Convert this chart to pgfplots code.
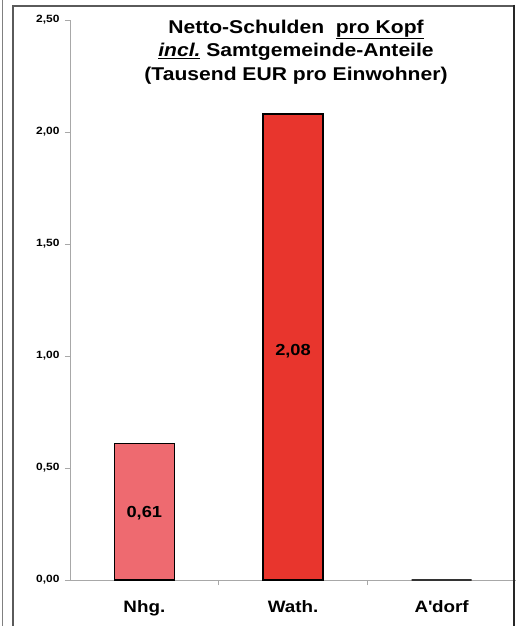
\documentclass[border=0pt]{standalone}
\usepackage{pgfplots}
\pgfplotsset{compat=1.18}
\usepackage{fontspec}
\setmainfont[FakeStretch=1.14]{Liberation Sans}
\definecolor{barA}{HTML}{EE6A70}
\definecolor{barB}{HTML}{E8352D}
\definecolor{axgray}{HTML}{A8A8A8}
\definecolor{framegray}{HTML}{5A5A5A}
\begin{document}
\begin{tikzpicture}[x=1pt,y=1pt]
\path[use as bounding box, fill=white] (0,0) rectangle (517,626);
\begin{axis}[
  at={(70pt,46pt)}, anchor=south west,
  scale only axis, width=446pt, height=560pt,
  xmin=-0.5, xmax=2.5, ymin=0, ymax=2.5,
  axis lines=left, axis line style={draw=axgray, line width=0.8pt, -},
  tick align=outside, major tick length=5pt,
  tick style={draw=axgray, line width=0.8pt},
  xtick={0.5,1.5}, xticklabels={},
  extra x ticks={0,1,2}, extra x tick labels={Nhg.,Wath.,A\textquotesingle dorf},
  extra x tick style={major tick length=0pt,
     tick label style={font=\bfseries\fontsize{16.5}{18}\selectfont, yshift=-17pt}},
  ytick={0,0.5,1,1.5,2,2.5},
  yticklabel style={font=\bfseries\fontsize{10.5}{12}\selectfont, xshift=-2pt,
     /pgf/number format/.cd, fixed, fixed zerofill, precision=2, use comma, assume math mode=true},
  clip=false,
]
\addplot[ybar, bar width=60pt, draw=black, line width=1.5pt, fill=barA]
  coordinates {(0,0.61)};
\addplot[ybar, bar width=60pt, draw=black, line width=1.5pt, fill=barB]
  coordinates {(1,2.08)};
\addplot[ybar, bar width=60pt, draw=black!80, line width=1.5pt, fill=barB]
  coordinates {(2,0.0)};
\addplot[draw=none, mark=none, point meta=explicit,
  nodes near coords={\pgfmathprintnumber[fixed,fixed zerofill,precision=2,use comma,assume math mode=true]{\pgfplotspointmeta}},
  every node near coord/.append style={anchor=center, font=\bfseries\fontsize{16}{18}\selectfont}]
  coordinates {(0,0.30)[0.61] (1,1.02)[2.08]};
\end{axis}
\node[align=center, font=\bfseries\fontsize{18.5}{23.5}\selectfont] at (296,574)
  {Netto-Schulden\ \ \underline{pro Kopf}\\ \underline{\textit{incl.}} Samtgemeinde-Anteile\\ (Tausend EUR pro Einwohner)};
\draw[framegray, line width=2pt] (13,-5) -- (13,620) -- (514,620);
\draw[black!85, line width=2.5pt] (514,621) -- (514,-5);
\draw[gray, line width=1pt] (2.5,-5) -- (2.5,631);
\end{tikzpicture}
\end{document}
